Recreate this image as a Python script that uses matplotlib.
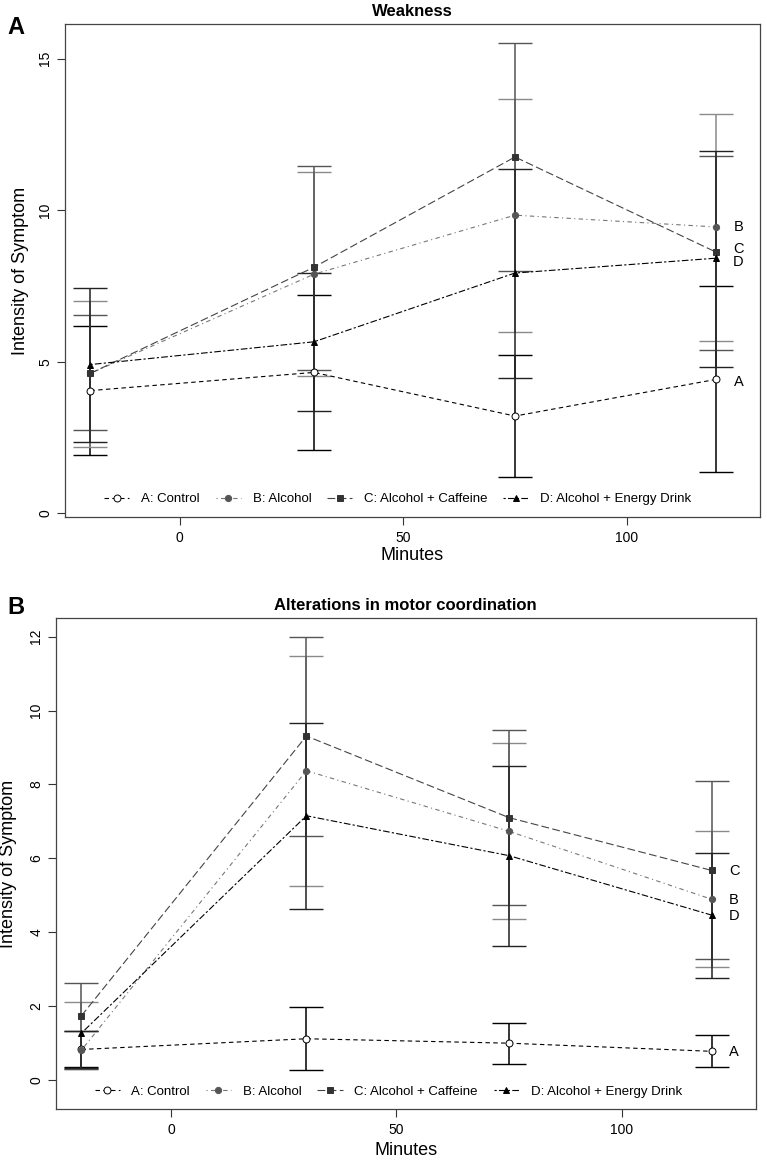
import matplotlib
matplotlib.use("Agg")
import matplotlib.pyplot as plt
import numpy as np

plt.rcParams['font.family'] = ['Liberation Sans', 'DejaVu Sans']

minutes = [-20, 30, 75, 120]
groups = ["A", "B", "C", "D"]
legend_labels = ["A: Control", "B: Alcohol", "C: Alcohol + Caffeine", "D: Alcohol + Energy Drink"]

# weakness: means and error bar ends (lower / upper)
weak_mean = {
    "A": [4.05, 4.65, 3.21, 4.42],
    "B": [4.62, 7.89, 9.84, 9.45],
    "C": [4.62, 8.12, 11.76, 8.62],
    "D": [4.91, 5.66, 7.93, 8.42],
}
weak_lo = {
    "A": [1.94, 2.09, 1.19, 1.35],
    "B": [2.20, 4.53, 5.99, 5.69],
    "C": [2.74, 4.73, 7.99, 5.38],
    "D": [2.37, 3.39, 4.45, 4.83],
}
weak_hi = {
    "A": [6.17, 7.20, 5.22, 7.50],
    "B": [7.01, 11.27, 13.68, 13.18],
    "C": [6.56, 11.47, 15.53, 11.79],
    "D": [7.42, 7.92, 11.36, 11.96],
}
weak_label_y = {"A": 4.35, "B": 9.45, "C": 8.72, "D": 8.29}

# motor coordination
motor_mean = {
    "A": [0.82, 1.11, 0.99, 0.77],
    "B": [0.80, 8.37, 6.73, 4.89],
    "C": [1.73, 9.31, 7.10, 5.67],
    "D": [1.26, 7.15, 6.07, 4.46],
}
motor_lo = {
    "A": [0.34, 0.26, 0.43, 0.34],
    "B": [0.28, 5.25, 4.35, 3.05],
    "C": [0.30, 6.59, 4.73, 3.27],
    "D": [0.32, 4.63, 3.63, 2.76],
}
motor_hi = {
    "A": [1.33, 1.96, 1.53, 1.20],
    "B": [2.10, 11.48, 9.12, 6.75],
    "C": [2.61, 12.00, 9.46, 8.08],
    "D": [1.33, 9.67, 8.49, 6.14],
}
motor_label_y = {"A": 0.76, "B": 4.87, "C": 5.66, "D": 4.44}

# styles
line_col = {"A": "black", "B": "#777777", "C": "#444444", "D": "black"}
mark_col = {"A": "white", "B": "#555555", "C": "#333333", "D": "black"}
err_col = {"A": "black", "B": "#8a8a8a", "C": "#555555", "D": "#222222"}
dash = {"A": (0, (4, 3)), "B": (0, (1, 3, 4, 3)), "C": (0, (7, 3)), "D": (0, (2, 2, 6, 2))}
marker = {"A": "o", "B": "o", "C": "s", "D": "^"}
msize = {"A": 5, "B": 4.5, "C": 4.5, "D": 5}


def panel(ax, mean, lo, hi, label_y, title, ylim, yticks, leg_x):
    x = np.array(minutes)
    for g in groups:
        m = np.array(mean[g])
        yerr = [m - np.array(lo[g]), np.array(hi[g]) - m]
        ax.errorbar(x, m, yerr=yerr, fmt="none", ecolor=err_col[g],
                    elinewidth=1.1, capsize=12, capthick=1.0, zorder=2)
    handles = []
    for g, lab in zip(groups, legend_labels):
        h, = ax.plot(x, mean[g], linestyle=dash[g], color=line_col[g], lw=0.8,
                     marker=marker[g], markersize=msize[g],
                     markerfacecolor=mark_col[g],
                     markeredgecolor="black" if g in ("A", "D") else mark_col[g],
                     markeredgewidth=0.7, label=lab, zorder=3)
        handles.append(h)
        ax.text(125, label_y[g], g, ha="center", va="center", fontsize=10.5)
    ax.set_xlim(-25.7, 129.8)
    ax.set_ylim(*ylim)
    ax.set_xticks([0, 50, 100])
    ax.set_yticks(yticks)
    ax.tick_params(direction="out", length=6, width=0.8, labelsize=10, color="#333333")
    ax.tick_params(axis="y", pad=3)
    ax.tick_params(axis="x", pad=4)
    for t in ax.get_yticklabels():
        t.set_rotation(90)
        t.set_va("center")
    for s in ax.spines.values():
        s.set_color("#444444")
        s.set_linewidth(0.9)
    ax.set_title(title, fontsize=12, fontweight="bold", pad=6)
    ax.set_xlabel("Minutes", fontsize=13)
    ax.set_ylabel("Intensity of Symptom", fontsize=13)
    ax.legend(handles=handles, loc="center", bbox_to_anchor=(leg_x, 0.036), ncol=4,
              frameon=False, fontsize=9.5, handlelength=1.9, handletextpad=0.9,
              columnspacing=1.2, borderaxespad=0)


fig = plt.figure(figsize=(7.67, 11.63), dpi=100)
axA = fig.add_axes([0.0847, 0.5555, 0.906, 0.4239])
axB = fig.add_axes([0.0726, 0.0462, 0.9126, 0.4222])

panel(axA, weak_mean, weak_lo, weak_hi, weak_label_y, "Weakness",
      (-0.12, 16.15), [0, 5, 10, 15], 0.479)
panel(axB, motor_mean, motor_lo, motor_hi, motor_label_y,
      "Alterations in motor coordination", (-0.8, 12.5), [0, 2, 4, 6, 8, 10, 12], 0.475)

axA.xaxis.set_label_coords(0.5, -0.061)
axB.xaxis.set_label_coords(0.5, -0.067)
axA.yaxis.set_label_coords(-0.052, 0.5)
axB.yaxis.set_label_coords(-0.055, 0.5)

fig.text(0.010, 1 - 27 / 1163, "A", fontsize=17, fontweight="bold", va="center")
fig.text(0.010, 1 - 608 / 1163, "B", fontsize=17, fontweight="bold", va="center")

fig.savefig("out.png", dpi=100)
